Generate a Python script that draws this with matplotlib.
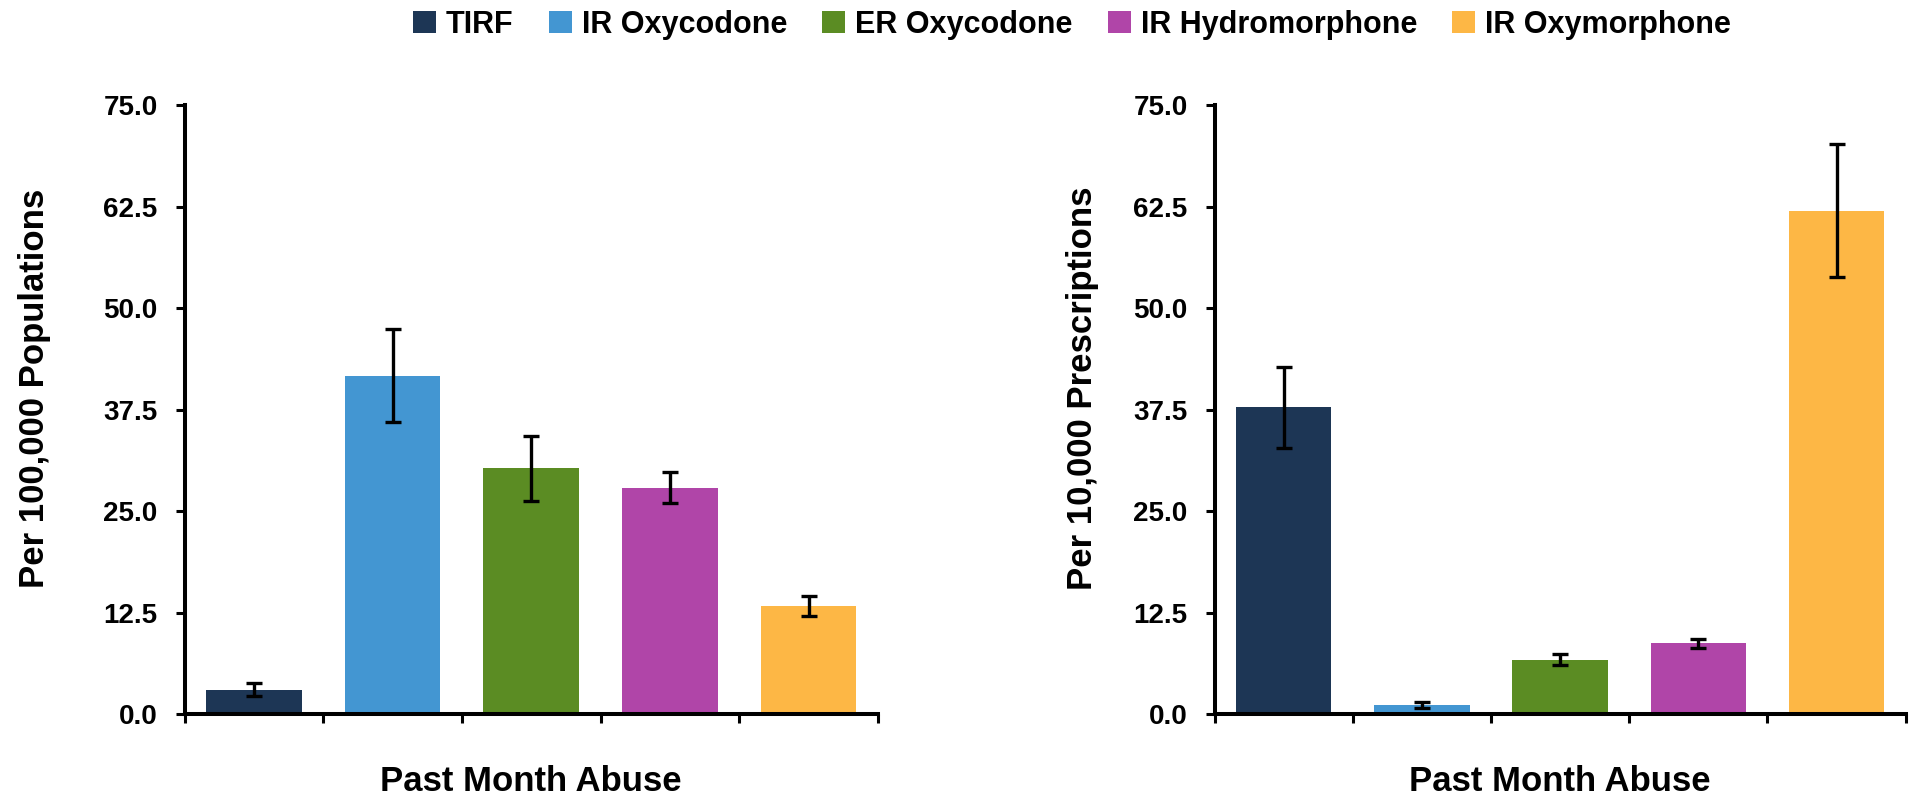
import numpy as np
import matplotlib
matplotlib.use("Agg")
import matplotlib.pyplot as plt
from matplotlib.patches import Patch

plt.rcParams['font.family'] = ['Liberation Sans', 'DejaVu Sans']
plt.rcParams['font.weight'] = 'bold'

drugs = ['TIRF', 'IR Oxycodone', 'ER Oxycodone', 'IR Hydromorphone', 'IR Oxymorphone']
colors = ['#1d3655', '#4396d2', '#5b8c23', '#b045a8', '#fdb745']

# past month abuse rates and their error bars
per_population = [3.0, 41.7, 30.3, 27.9, 13.3]
per_population_err = [0.8, 5.7, 4.0, 1.9, 1.2]
per_prescription = [37.8, 1.1, 6.7, 8.7, 62.0]
per_prescription_err = [5.0, 0.35, 0.7, 0.6, 8.2]

yticks = [0.0, 12.5, 25.0, 37.5, 50.0, 62.5, 75.0]


def draw_panel(ax, values, errs, ylabel, ylabel_x):
    x = np.arange(len(values))
    ax.bar(x, values, width=0.69, color=colors, zorder=2)
    ax.errorbar(x, values, yerr=errs, fmt='none', ecolor='black',
                elinewidth=2.4, capsize=6, capthick=2.4, zorder=3)
    ax.set_xlim(-0.5, len(values) - 0.5)
    ax.set_ylim(0, 75)
    ax.set_yticks(yticks)
    ax.set_yticklabels([f"{t:.1f}" for t in yticks], fontsize=20, fontweight='bold')
    ax.set_xticks(np.arange(len(values) + 1) - 0.5)
    ax.set_xticklabels([])
    ax.tick_params(axis='both', direction='out', length=6.5, width=2.2)
    ax.tick_params(axis='y', pad=13)
    for side in ['top', 'right']:
        ax.spines[side].set_visible(False)
    for side in ['left', 'bottom']:
        ax.spines[side].set_linewidth(2.9)
    ax.set_xlabel('Past Month Abuse', fontsize=25, fontweight='bold')
    ax.xaxis.set_label_coords(0.5, -0.084)
    ax.set_ylabel(ylabel, fontsize=25, fontweight='bold')
    ax.yaxis.set_label_coords(ylabel_x, 0.535)


fig = plt.figure(figsize=(19.21, 7.95), dpi=100)
ax1 = fig.add_axes([0.0961, 0.1019, 0.3609, 0.7657])
ax2 = fig.add_axes([0.6323, 0.1019, 0.3597, 0.7657])

draw_panel(ax1, per_population, per_population_err, 'Per 100,000 Populations', -0.193)
draw_panel(ax2, per_prescription, per_prescription_err, 'Per 10,000 Prescriptions', -0.168)

handles = [Patch(facecolor=c, edgecolor='none') for c in colors]
fig.legend(handles, drugs, loc='center', bbox_to_anchor=(0.558, 0.969), ncol=5,
           frameon=False, handlelength=0.75, handleheight=0.75,
           handletextpad=0.33, columnspacing=1.15, prop={'weight': 'bold', 'size': 22})

fig.savefig('out.png', dpi=100)
